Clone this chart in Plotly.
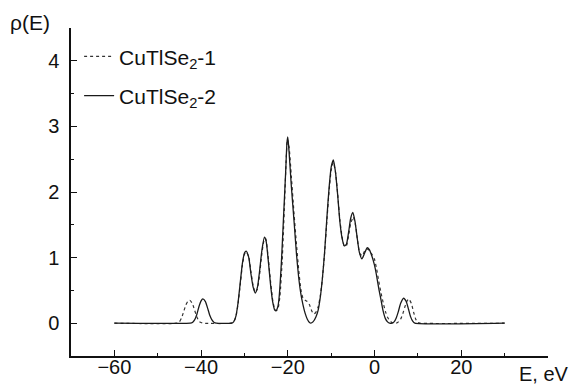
import plotly.graph_objects as go

# Series 1 (dotted): CuTlSe2-1
E1 = [-60, -45.5, -45, -44.5, -44, -43.5, -43, -42.6, -42, -41.5, -41, -40.5, -40, -39.5,
      -33, -32.5, -32, -31.5, -31, -30.5, -30, -29.6, -29, -28.5, -28, -27.5, -27, -26.5,
      -26, -25.5, -25.1, -24.6, -24, -23.5, -23, -22.6, -22.2, -21.8, -21.3, -20.8, -20.4,
      -20.1, -19.7, -19.2, -18.6, -18, -17.5, -17, -16.5, -16, -15.5, -15, -14.5, -14,
      -13.5, -13, -12.5, -12, -11.5, -11, -10.5, -10, -9.5, -9, -8.5, -8, -7.5, -7, -6.5,
      -6, -5.5, -4.9, -4.4, -3.9, -3.4, -2.8, -2.3, -1.7, -1.2, -0.5, 0, 0.5, 1, 1.5, 2,
      2.5, 3, 3.5, 4, 4.5, 5, 5.5, 6, 6.5, 7, 7.5, 7.9, 8.5, 9, 9.5, 10, 10.5, 30]
rho1 = [0, 0, 0.02, 0.08, 0.18, 0.28, 0.34, 0.35, 0.30, 0.20, 0.10, 0.03, 0.01, 0,
        0, 0.02, 0.09, 0.28, 0.57, 0.87, 1.05, 1.09, 1.01, 0.78, 0.57, 0.47, 0.52, 0.75,
        1.05, 1.26, 1.29, 1.05, 0.65, 0.36, 0.21, 0.19, 0.24, 0.42, 0.95, 1.75, 2.45,
        2.80, 2.68, 2.25, 1.70, 1.20, 0.82, 0.52, 0.38, 0.35, 0.33, 0.28, 0.19, 0.14,
        0.17, 0.25, 0.42, 0.70, 1.08, 1.55, 2.00, 2.33, 2.45, 2.30, 1.97, 1.58, 1.32, 1.18,
        1.18, 1.33, 1.52, 1.62, 1.50, 1.25, 1.06, 1.03, 1.10, 1.13, 1.11, 1.04, 0.97, 0.82,
        0.63, 0.46, 0.31, 0.18, 0.09, 0.04, 0.01, 0, 0, 0.02, 0.06, 0.14, 0.25, 0.34,
        0.37, 0.30, 0.17, 0.06, 0.01, 0, 0]

# Series 2 (solid): CuTlSe2-2
E2 = [-60, -42.5, -42, -41.5, -41, -40.5, -40, -39.6, -39, -38.5, -38, -37.5, -37, -36.5,
      -33, -32.5, -32, -31.5, -31, -30.5, -30, -29.6, -29, -28.5, -28, -27.5, -27, -26.5,
      -26, -25.4, -25, -24.5, -24, -23.5, -23, -22.7, -22.3, -22, -21.5, -21, -20.5,
      -20.2, -20, -19.7, -19.2, -18.5, -18, -17.5, -17, -16.5, -16, -15.5, -15, -14.7,
      -14.2, -13.5, -13, -12.5, -12, -11.5, -11, -10.5, -10, -9.5, -9, -8.5, -8, -7.5, -7,
      -6.5, -6, -5.5, -5, -4.5, -4, -3.5, -2.9, -2.4, -1.7, -1.2, -0.6, 0, 0.4, 1, 1.5, 2,
      2.5, 3, 3.5, 4, 4.5, 5, 5.5, 6, 6.7, 7.3, 7.8, 8.3, 8.8, 9.3, 30]
rho2 = [0, 0, 0.01, 0.05, 0.13, 0.25, 0.34, 0.37, 0.33, 0.23, 0.12, 0.05, 0.01, 0,
        0, 0.02, 0.10, 0.30, 0.60, 0.90, 1.07, 1.10, 1.00, 0.75, 0.55, 0.46, 0.55, 0.80,
        1.10, 1.31, 1.25, 0.95, 0.60, 0.33, 0.20, 0.19, 0.25, 0.40, 0.90, 1.60, 2.30,
        2.75, 2.84, 2.60, 2.10, 1.50, 1.05, 0.70, 0.45, 0.28, 0.15, 0.06, 0.01, 0,
        0.02, 0.10, 0.20, 0.40, 0.70, 1.10, 1.60, 2.05, 2.38, 2.49, 2.30, 1.95, 1.55, 1.30,
        1.18, 1.20, 1.38, 1.60, 1.69, 1.55, 1.30, 1.08, 0.98, 1.05, 1.15, 1.12, 1.02, 0.88,
        0.75, 0.52, 0.35, 0.18, 0.07, 0.02, 0, 0, 0.02, 0.08, 0.18, 0.30, 0.38, 0.33,
        0.22, 0.10, 0.03, 0, 0]

names = ["CuTlSe<sub>2</sub>-1", "CuTlSe<sub>2</sub>-2"]
x_ticks = [-60, -40, -20, 0, 20]
x_minor = [-50, -30, -10, 10, 30]
y_ticks = [0, 1, 2, 3, 4]
y_minor = [0.5, 1.5, 2.5, 3.5]

FONT = "Arial, Liberation Sans, sans-serif"

fig = go.Figure()
fig.add_trace(go.Scatter(x=E1, y=rho1, mode="lines", name=names[0], legendgroup="a",
                         line=dict(color="#333333", width=1.2, dash="dot", shape="spline", smoothing=0.5)))
fig.add_trace(go.Scatter(x=E2, y=rho2, mode="lines", name=names[1], legendgroup="b",
                         line=dict(color="#1a1a1a", width=1.3, shape="spline", smoothing=0.5)))

axis_common = dict(showline=True, linecolor="#111111", linewidth=1.5, ticks="inside",
                   tickcolor="#111111", tickwidth=1, ticklen=6, showgrid=False, zeroline=False,
                   mirror=False, automargin=False,
                   tickfont=dict(family=FONT, size=20, color="#111111"))

fig.update_layout(
    width=570, height=390,
    margin=dict(l=71, r=22, t=28, b=34),
    paper_bgcolor="white", plot_bgcolor="white",
    showlegend=True,
    legend=dict(x=0.017, y=0.975, xanchor="left", yanchor="top", bgcolor="rgba(0,0,0,0)",
                font=dict(family=FONT, size=21, color="#111111"), tracegroupgap=9,
                traceorder="grouped", itemwidth=30),
    xaxis=dict(range=[-70, 40], tickmode="array", tickvals=x_ticks,
               minor=dict(tickvals=x_minor, ticks="inside", ticklen=3, tickcolor="#111111"),
               ticklabelposition="outside", ticklabelstandoff=-8, **axis_common),
    yaxis=dict(range=[-0.5, 4.5], tickmode="array", tickvals=y_ticks,
               minor=dict(tickvals=y_minor, ticks="inside", ticklen=3, tickcolor="#111111"),
               ticklabelstandoff=6, **axis_common),
    annotations=[
        dict(text="ρ(E)", xref="paper", yref="paper", x=-0.132, y=1.017, xanchor="left",
             yanchor="middle", showarrow=False, font=dict(family=FONT, size=21, color="#111111")),
        dict(text="E, eV", xref="paper", yref="paper", x=0.991, y=-0.056, xanchor="center",
             yanchor="middle", showarrow=False, font=dict(family=FONT, size=20, color="#111111")),
    ],
)

fig.write_html("out.html", config={"displayModeBar": False},
               post_script="document.body.style.margin='0';")
